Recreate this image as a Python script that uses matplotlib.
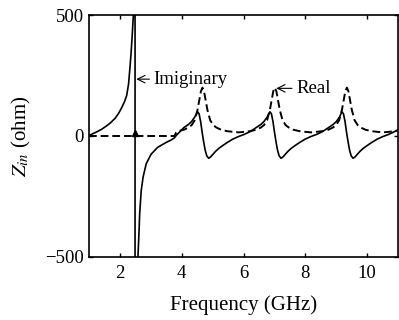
import matplotlib
matplotlib.use("Agg")
import matplotlib.pyplot as plt

# imaginary part of Zin (solid), GHz / ohm
imag_freq = [1.0, 1.1, 1.25, 1.4, 1.55, 1.7, 1.85, 1.95, 2.05, 2.15, 2.22, 2.28,
             2.32, 2.36, 2.40, 2.44, 2.47, 2.49, 2.49, 2.56, 2.585, 2.62, 2.64,
             2.69, 2.75, 2.85, 3.01, 3.22, 3.49, 3.65, 3.76, 3.84, 3.92,
             4.07, 4.22, 4.32, 4.42, 4.51, 4.56, 4.61, 4.66, 4.71, 4.76, 4.81,
             4.87, 4.93, 5.0, 5.09, 5.2, 5.32, 5.47, 5.65, 5.84,
             6.01, 6.21, 6.41, 6.56, 6.66, 6.76, 6.85, 6.90, 6.95, 7.00, 7.05,
             7.10, 7.15, 7.21, 7.27, 7.34, 7.43, 7.54, 7.66, 7.81, 7.99, 8.18,
             8.35, 8.55, 8.75, 8.9, 9.0, 9.1, 9.18, 9.23, 9.28, 9.33, 9.38,
             9.43, 9.48, 9.54, 9.6, 9.67, 9.76, 9.87, 9.99, 10.14, 10.32, 10.51,
             10.68, 10.88, 11.0]
imag_ohm = [2, 8, 17, 27, 40, 55, 74, 92, 115, 142, 168, 215,
            275, 340, 420, 510, 800, 3000, -3000, -800, -496, -390, -320,
            -225, -170, -115, -75, -47, -27, -17, -8, 5, 15,
            35, 48, 60, 78, 100, 92, 60, 15, -25, -60, -82,
            -92, -87, -77, -64, -51, -40, -27, -13, -2,
            6, 18, 35, 48, 60, 78, 100, 92, 60, 15, -25,
            -60, -82, -92, -87, -77, -64, -51, -40, -27, -13, -2,
            6, 18, 35, 48, 60, 78, 100, 92, 60, 15, -25,
            -60, -82, -92, -87, -77, -64, -51, -40, -27, -13, -2,
            6, 18, 26]

# real part of Zin (dashed)
real_freq = [1.0, 3.76, 3.82, 3.87, 4.07, 4.22, 4.32, 4.42, 4.51, 4.57, 4.62,
             4.67, 4.72, 4.77, 4.83, 4.92, 5.02, 5.12, 5.27, 5.47, 5.67, 5.84,
             6.01, 6.21, 6.41, 6.56, 6.66, 6.76, 6.85, 6.91, 6.96, 7.01, 7.06,
             7.11, 7.17, 7.26, 7.36, 7.46, 7.61, 7.81, 8.01, 8.18,
             8.34, 8.54, 8.74, 8.89, 8.99, 9.09, 9.18, 9.24, 9.29, 9.34, 9.39,
             9.44, 9.5, 9.59, 9.69, 9.79, 9.94, 10.14, 10.34, 10.51, 10.68,
             10.88, 11.0]
real_ohm = [0, 0, 14, 20, 26, 35, 45, 65, 108, 150, 185,
            200, 185, 150, 108, 65, 45, 35, 26, 20, 17, 15,
            17, 20, 26, 35, 45, 65, 108, 150, 185, 200, 185,
            150, 108, 65, 45, 35, 26, 20, 17, 15,
            17, 20, 26, 35, 45, 65, 108, 150, 185, 200, 185,
            150, 108, 65, 45, 35, 26, 20, 17, 15, 17,
            20, 23]

resonance_mark = (2.49, 14)
xticks = [2, 4, 6, 8, 10]
yticks = [-500, 0, 500]

plt.rcParams["font.family"] = ["Liberation Serif", "DejaVu Serif"]
plt.rcParams["mathtext.fontset"] = "stix"

fig = plt.figure(figsize=(3.99, 3.2), dpi=100)
ax = fig.add_axes([0.223, 0.197, 0.775, 0.756])

ax.plot(imag_freq, imag_ohm, color="black", lw=1.2)
ax.plot(real_freq, real_ohm, color="black", lw=1.4, dashes=(4, 2))
ax.plot(*resonance_mark, marker="^", color="black", ms=4)

ax.annotate("Imiginary", xy=(2.53, 235), xytext=(3.09, 235),
            fontsize=13.5, ha="left", va="center",
            arrowprops=dict(arrowstyle="->", color="black", lw=0.8,
                            shrinkA=1, shrinkB=0))
ax.annotate("Real", xy=(7.06, 197), xytext=(7.70, 197),
            fontsize=13.5, ha="left", va="center",
            arrowprops=dict(arrowstyle="->", color="black", lw=0.8,
                            shrinkA=1, shrinkB=0))

ax.set_xlim(1, 11)
ax.set_ylim(-500, 500)
ax.set_xticks(xticks)
ax.set_yticks(yticks)
ax.tick_params(direction="in", length=3, width=1, labelsize=13.5,
               top=True, right=True)
ax.tick_params(axis="x", pad=6)
for sp in ax.spines.values():
    sp.set_linewidth(1.2)

ax.set_xlabel("Frequency (GHz)", fontsize=15, labelpad=9)
ax.set_ylabel("$Z_{in}$ (ohm)", fontsize=15, labelpad=9)

fig.savefig("out.png", dpi=100)
